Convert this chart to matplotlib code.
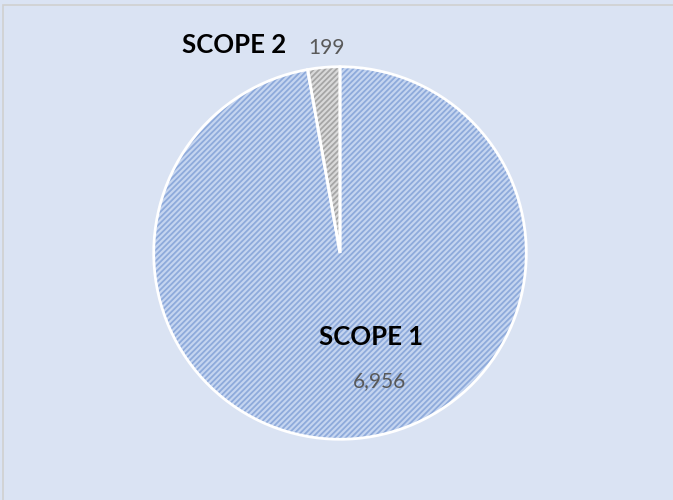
import matplotlib.pyplot as plt
from matplotlib.patches import Rectangle

# data
labels = ['SCOPE 1', 'SCOPE 2']
values = [6956, 199]
value_text = ['6,956', '199']

fill_colors = ['#c5d5f0', '#d9d9d9']
hatch_colors = ['#8eaadb', '#a6a6a6']

W, H = 673, 500
fig = plt.figure(figsize=(W / 100, H / 100), dpi=100)
fig.patch.set_facecolor('#dae3f3')

# thin light border at left/top like the chart frame
fig.add_artist(Rectangle((3 / W, -0.1), 1.2, (H - 5) / H + 0.1, transform=fig.transFigure,
                         fill=False, edgecolor='#d0d0d0', linewidth=1.2))

cx, cy, r = 340, 253, 190
ax = fig.add_axes([(cx - r) / W, (H - cy - r) / H, 2 * r / W, 2 * r / H])
ax.set_facecolor('none')

plt.rcParams['hatch.linewidth'] = 1.3
wedges, _ = ax.pie(values, startangle=90, counterclock=False, radius=1,
                   colors=fill_colors)
for w, hc in zip(wedges, hatch_colors):
    w.set_hatch('//////')
    w.set_edgecolor(hc)
    w.set_linewidth(0)
# white outlines on top
ax.pie(values, startangle=90, counterclock=False, radius=1,
       colors=['none', 'none'],
       wedgeprops=dict(edgecolor='white', linewidth=2, fill=False))
ax.set_xlim(-1.02, 1.02)
ax.set_ylim(-1.02, 1.02)
ax.axis('off')

font = 'Lato'
# label positions in pixel coords
fig.text(234 / W, 1 - 45 / H, labels[1], fontsize=18.5, fontweight='bold',
         family=font, ha='center', va='center', color='black')
fig.text(326 / W, 1 - 48 / H, value_text[1], fontsize=15, family=font,
         ha='center', va='center', color='#595959')
fig.text(371 / W, 1 - 337 / H, labels[0], fontsize=18.5, fontweight='bold',
         family=font, ha='center', va='center', color='black')
fig.text(380 / W, 1 - 381 / H, value_text[0], fontsize=15, family=font,
         ha='center', va='center', color='#595959')

fig.savefig('out.png', dpi=100, facecolor=fig.get_facecolor())
